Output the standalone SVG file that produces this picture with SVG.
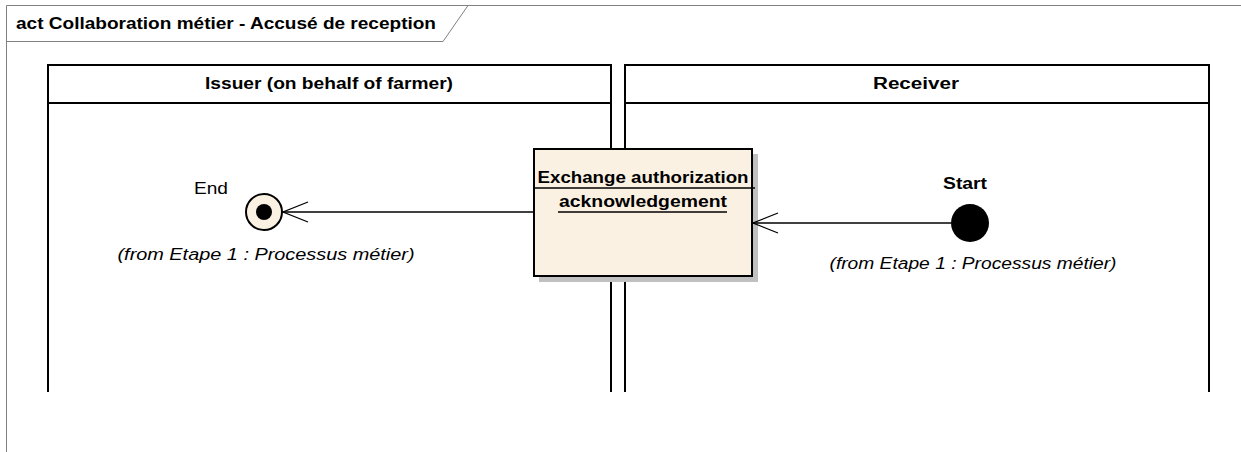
<svg xmlns="http://www.w3.org/2000/svg" width="1241" height="452" viewBox="0 0 1241 452">
<defs>
<style>
.t{font-family:"Liberation Sans",Arial,sans-serif;fill:#000;font-size:16px}
.b{font-weight:bold}
.i{font-style:italic}
.lane{fill:none;stroke:#000;stroke-width:2}
.conn{fill:none;stroke:#000;stroke-width:1.3}
</style>
<marker id="open" markerWidth="28" markerHeight="24" refX="26" refY="12" orient="auto" markerUnits="userSpaceOnUse">
<path d="M1,2 L26,12 L1,22" fill="none" stroke="#000" stroke-width="1.3"/>
</marker>
</defs>
<rect width="1241" height="452" fill="#fff"/>
<g id="frame">
<path d="M6.5,452 L6.5,5.5 L1241,5.5" fill="none" stroke="#808080" stroke-width="1"/>
<path d="M6.5,41.5 L443,41.5 L468,5.5" fill="none" stroke="#808080" stroke-width="1"/>
<text class="t b" x="16" y="29" textLength="420" lengthAdjust="spacingAndGlyphs">act Collaboration métier - Accusé de reception</text>
</g>
<g id="lane-issuer">
<path class="lane" d="M48,392 L48,65 L611,65 L611,392 M48,103 L611,103"/>
<text class="t b" x="329" y="89" text-anchor="middle" textLength="248" lengthAdjust="spacingAndGlyphs">Issuer (on behalf of farmer)</text>
</g>
<g id="lane-receiver">
<path class="lane" d="M625,392 L625,65 L1209,65 L1209,392 M625,103 L1209,103"/>
<text class="t b" x="916" y="89" text-anchor="middle" textLength="86" lengthAdjust="spacingAndGlyphs">Receiver</text>
</g>
<g id="action">
<rect x="539" y="154" width="219" height="128" fill="#c0c0c0"/>
<rect x="534" y="149" width="218" height="127" fill="#FBF1E3" stroke="#000" stroke-width="2"/>
<line x1="534" y1="188" x2="755" y2="188" stroke="#000" stroke-width="1.5"/>
<text class="t b" x="643" y="183" text-anchor="middle" textLength="211" lengthAdjust="spacingAndGlyphs">Exchange authorization</text>
<text class="t b" x="643" y="207" text-anchor="middle" textLength="168" lengthAdjust="spacingAndGlyphs">acknowledgement</text>
<line x1="558" y1="212" x2="727" y2="212" stroke="#000" stroke-width="1.5"/>
</g>
<g id="end">
<circle cx="264" cy="212" r="18" fill="#FBF1E3" stroke="#000" stroke-width="2"/>
<circle cx="264" cy="212" r="8" fill="#000"/>
<text class="t" x="211" y="194" text-anchor="middle" textLength="34" lengthAdjust="spacingAndGlyphs">End</text>
<text class="t i" x="266" y="260" text-anchor="middle" textLength="297" lengthAdjust="spacingAndGlyphs">(from Etape 1 : Processus métier)</text>
</g>
<g id="start">
<circle cx="970" cy="223" r="19" fill="#000"/>
<text class="t b" x="965" y="189" text-anchor="middle" textLength="44" lengthAdjust="spacingAndGlyphs">Start</text>
<text class="t i" x="973" y="269" text-anchor="middle" textLength="287" lengthAdjust="spacingAndGlyphs">(from Etape 1 : Processus métier)</text>
</g>
<g id="connectors">
<line class="conn" x1="534" y1="212" x2="283" y2="212" marker-end="url(#open)"/>
<line class="conn" x1="951" y1="223" x2="753" y2="223" marker-end="url(#open)"/>
</g>
</svg>
